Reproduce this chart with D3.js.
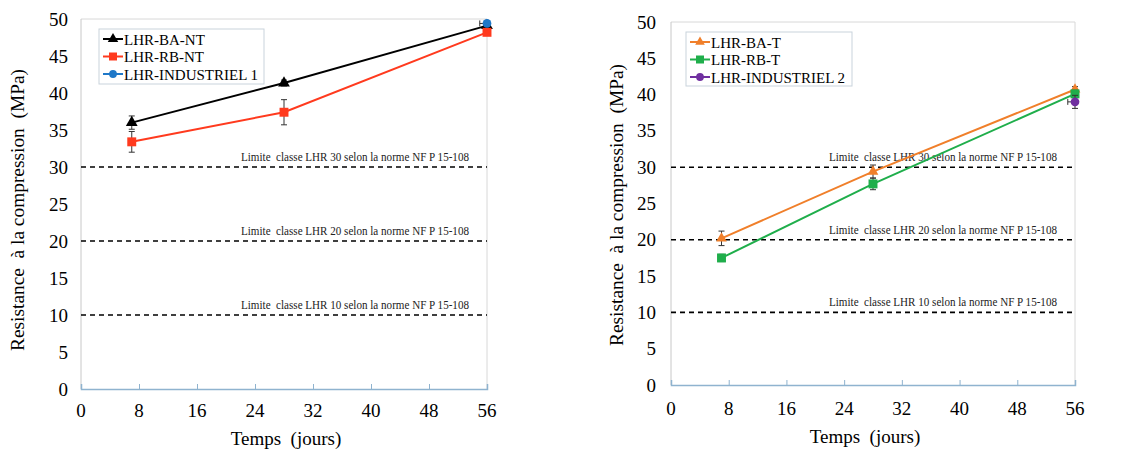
<!DOCTYPE html>
<html><head><meta charset="utf-8">
<script src="https://cdn.jsdelivr.net/npm/d3@7"></script>
<style>body{margin:0;background:#fff}svg{display:block}text{white-space:pre}</style>
</head><body>
<svg id="c" width="1125" height="452"></svg>
<script>
const days = [7, 28, 56];
const xTicks = [0, 8, 16, 24, 32, 40, 48, 56];
const yTicks = [0, 5, 10, 15, 20, 25, 30, 35, 40, 45, 50];
const limits = [10, 20, 30];
const limitLabels = ["Limite  classe LHR 10 selon la norme NF P 15-108",
                     "Limite  classe LHR 20 selon la norme NF P 15-108",
                     "Limite  classe LHR 30 selon la norme NF P 15-108"];
const yTitle = "Resistance  à la compression  (MPa)";
const xTitle = "Temps  (jours)";

// Left panel (non traité)
const baNT = [36.0, 41.35, 49.1];
const baNTerr = [0.9, 0.4, 0.3];
const rbNT = [33.4, 37.4, 48.2];
const rbNTerr = [1.4, 1.7, 0.4];
const ind1Day = [56];
const ind1 = [49.4];
const ind1err = [0.3];
const ind1xerr = [1.0];

// Right panel (traité)
const baT = [20.2, 29.4, 40.7];
const baTerr = [1.0, 0.9, 0.4];
const rbT = [17.5, 27.7, 40.1];
const rbTerr = [0.5, 0.8, 0.5];
const ind2Day = [56];
const ind2 = [39.0];
const ind2err = [0.9];
const ind2xerr = [1.0];

const svg = d3.select("#c");
const FONT = "'Liberation Serif','Times New Roman',serif";

const panels = [
  {x0: 81, x1: 487, y0: 389, y1: 19, tickX: 68, yTitleX: 18, yTitleC: 210, xTitleX: 286, xTitleY: 445, xLabY: 417,
   legend: {x: 99, y: 29, w: 165, h: 55},
   series: [
     {name: "LHR-BA-NT", x: days, y: baNT, e: baNTerr, color: "#000000", sym: d3.symbolTriangle, size: 60},
     {name: "LHR-RB-NT", x: days, y: rbNT, e: rbNTerr, color: "#ff3a1e", sym: d3.symbolSquare, size: 80},
     {name: "LHR-INDUSTRIEL 1", x: ind1Day, y: ind1, e: ind1err, xe: ind1xerr, color: "#1f78c8", sym: d3.symbolCircle, size: 60}
   ]},
  {x0: 671, x1: 1075, y0: 385, y1: 22, tickX: 656, yTitleX: 617, yTitleC: 205, xTitleX: 865, xTitleY: 443, xLabY: 415,
   legend: {x: 686, y: 32, w: 166, h: 54},
   series: [
     {name: "LHR-BA-T", x: days, y: baT, e: baTerr, color: "#f07f2a", sym: d3.symbolTriangle, size: 50},
     {name: "LHR-RB-T", x: days, y: rbT, e: rbTerr, color: "#1fae4b", sym: d3.symbolSquare, size: 80},
     {name: "LHR-INDUSTRIEL 2", x: ind2Day, y: ind2, e: ind2err, xe: ind2xerr, color: "#7030a0", sym: d3.symbolCircle, size: 60}
   ]}
];

panels.forEach(p => {
  const x = d3.scaleLinear().domain([0, 56]).range([p.x0, p.x1]);
  const y = d3.scaleLinear().domain([0, 50]).range([p.y0, p.y1]);
  const g = svg.append("g");

  g.append("path").attr("d", `M${p.x0},${p.y1}H${p.x1}V${p.y0}`)
    .attr("fill", "none").attr("stroke", "#d8d8d8").attr("stroke-width", 1);
  g.append("line").attr("x1", p.x0).attr("x2", p.x0).attr("y1", p.y1).attr("y2", p.y0)
    .attr("stroke", "#c8c8c8").attr("stroke-width", 1);

  const xa = g.append("g").attr("transform", `translate(0,${p.y0})`)
    .call(d3.axisBottom(x).tickValues(xTicks).tickSize(-5).tickFormat(""));
  xa.select(".domain").attr("stroke", "#8fb3cf").attr("stroke-width", 1.5);
  xa.selectAll(".tick line").attr("stroke", "#8fb3cf");
  g.selectAll(".xl").data(xTicks).join("text")
    .attr("x", d => x(d)).attr("y", p.xLabY).attr("text-anchor", "middle")
    .attr("font-family", FONT).attr("font-size", 19).text(d => d);

  g.selectAll(".yl").data(yTicks).join("text")
    .attr("x", p.tickX).attr("y", d => y(d) + 6.5).attr("text-anchor", "end")
    .attr("font-family", FONT).attr("font-size", 19).text(d => d);

  g.append("text").attr("transform", `translate(${p.yTitleX + 6},${p.yTitleC}) rotate(-90)`)
    .attr("text-anchor", "middle").attr("font-family", FONT).attr("font-size", 19)
    .attr("textLength", 282).attr("lengthAdjust", "spacingAndGlyphs").text(yTitle);
  g.append("text").attr("x", p.xTitleX).attr("y", p.xTitleY).attr("text-anchor", "middle")
    .attr("font-family", FONT).attr("font-size", 19).text(xTitle);

  limits.forEach((v, i) => {
    g.append("line").attr("x1", x(0)).attr("x2", x(56)).attr("y1", y(v)).attr("y2", y(v))
      .attr("stroke", "#000").attr("stroke-width", 1.6).attr("stroke-dasharray", "5,4");
    g.append("text").attr("x", x(56) - 18).attr("y", y(v) - 6).attr("text-anchor", "end")
      .attr("font-family", FONT).attr("font-size", 12).attr("fill", "#222")
      .attr("textLength", 228).attr("lengthAdjust", "spacingAndGlyphs")
      .text(limitLabels[i]);
  });

  p.series.forEach(s => {
    const pts = s.x.map((d, i) => ({x: d, y: s.y[i], e: s.e[i], xe: s.xe ? s.xe[i] : 0}));
    if (pts.length > 1) {
      g.append("path").datum(pts)
        .attr("d", d3.line().x(d => x(d.x)).y(d => y(d.y)))
        .attr("fill", "none").attr("stroke", s.color).attr("stroke-width", 2);
    }
    pts.forEach(d => {
      const cx = x(d.x);
      g.append("path").attr("d", `M${cx},${y(d.y + d.e)}V${y(d.y - d.e)}M${cx - 3},${y(d.y + d.e)}H${cx + 3}M${cx - 3},${y(d.y - d.e)}H${cx + 3}`)
        .attr("stroke", "#333").attr("stroke-width", 1).attr("fill", "none");
      if (d.xe) {
        const xl = x(d.x - d.xe);
        g.append("path").attr("d", `M${xl},${y(d.y)}H${cx}M${xl},${y(d.y) - 3}V${y(d.y) + 3}`)
          .attr("stroke", "#333").attr("stroke-width", 1).attr("fill", "none");
      }
    });
    g.selectAll(null).data(pts).join("path")
      .attr("transform", d => `translate(${x(d.x)},${y(d.y)})`)
      .attr("d", d3.symbol().type(s.sym).size(s.size)).attr("fill", s.color);
  });

  const L = p.legend;
  g.append("rect").attr("x", L.x).attr("y", L.y).attr("width", L.w).attr("height", L.h)
    .attr("fill", "#fff").attr("stroke", "#c9d3dc").attr("stroke-width", 1);
  p.series.forEach((s, i) => {
    const yy = L.y + 10 + i * 17.5;
    g.append("line").attr("x1", L.x + 4).attr("x2", L.x + 24).attr("y1", yy).attr("y2", yy)
      .attr("stroke", s.color).attr("stroke-width", 2);
    g.append("path").attr("transform", `translate(${L.x + 14},${yy})`)
      .attr("d", d3.symbol().type(s.sym).size(s.size * 0.8)).attr("fill", s.color);
    g.append("text").attr("x", L.x + 25).attr("y", yy + 5.5)
      .attr("font-family", FONT).attr("font-size", 15).text(s.name);
  });
});
</script>
</body></html>
